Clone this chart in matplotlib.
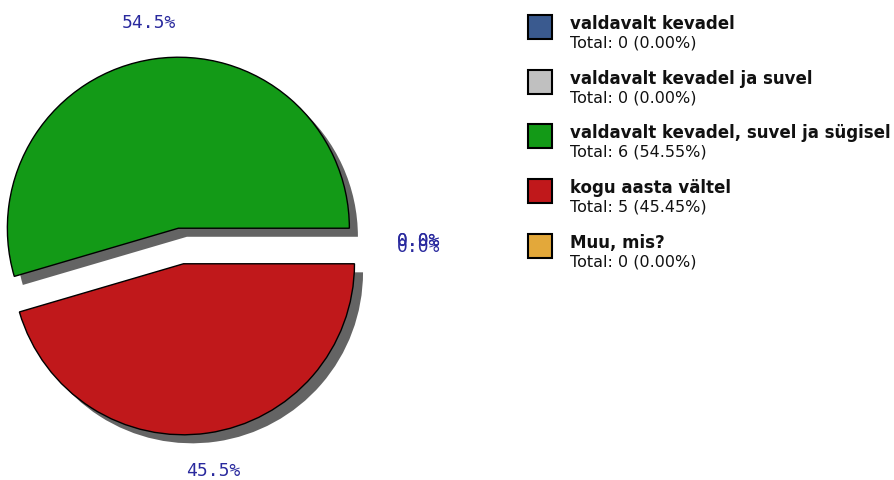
import matplotlib
matplotlib.use("Agg")
import matplotlib.pyplot as plt
from matplotlib.patches import Rectangle

# survey answers
categories = ["valdavalt kevadel", "valdavalt kevadel ja suvel",
              "valdavalt kevadel, suvel ja sügisel", "kogu aasta vältel", "Muu, mis?"]
counts = [0, 0, 6, 5, 0]
colors = ["#3a5a8f", "#c0c0c0", "#139a17", "#c0181b", "#e3a83a"]
explode = [0.17, 0.17, 0.105, 0.105, 0.17]

total = sum(counts)
label_col = "#2a2a9e"

fig = plt.figure(figsize=(8.95, 4.81), dpi=100)

# pie axes: 1 data unit = 171 px
ax = fig.add_axes([0, 0, 480 / 895, 1])
# shadow first
ax.pie(counts, explode=explode, startangle=0, center=(0.05, -0.05),
       colors=["#646464"] * len(counts), wedgeprops=dict(linewidth=0))
wedges, texts, autotexts = ax.pie(counts, explode=explode, startangle=0, colors=colors,
                                  autopct="%1.1f%%", pctdistance=1.22,
                                  wedgeprops=dict(edgecolor="black", linewidth=1))
for i, (w, t) in enumerate(zip(wedges, autotexts)):
    if counts[i] == 0:
        w.set_linewidth(0)
    t.set_fontfamily("DejaVu Sans Mono")
    t.set_fontsize(13)
    t.set_color(label_col)
    if counts[i] == 0 and i < 2:
        x, y = t.get_position()
        t.set_position((x, y + 0.035))
ax.set_xlim(-1.058, 1.749)
ax.set_ylim(-1.368, 1.444)
ax.set_aspect("equal")
ax.axis("off")

# legend drawn in pixel coords
lg = fig.add_axes([0, 0, 1, 1])
lg.set_xlim(0, 895)
lg.set_ylim(481, 0)
lg.axis("off")
for i, (name, n, c) in enumerate(zip(categories, counts, colors)):
    top = 16 + i * 54.7
    lg.add_patch(Rectangle((528, top), 24, 24, facecolor=c, edgecolor="black", linewidth=1.5))
    lg.text(570, top + 8, name, fontsize=12, fontweight="bold", va="center", ha="left", color="#111111")
    lg.text(570, top + 27, "Total: %d (%.2f%%)" % (n, 100.0 * n / total), fontsize=11.5,
            va="center", ha="left", color="#111111")

fig.savefig("out.png", dpi=100)
